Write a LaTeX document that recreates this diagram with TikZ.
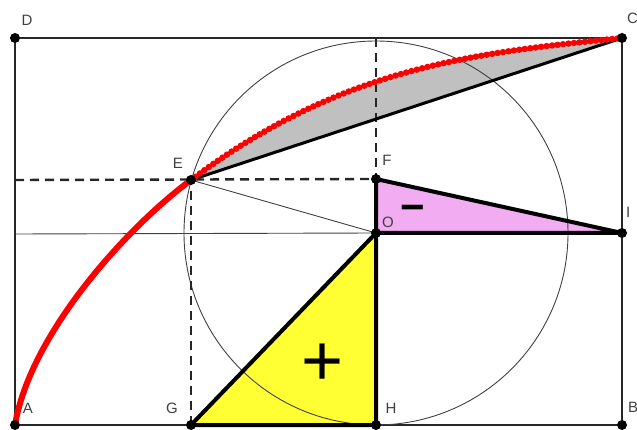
\documentclass[tikz,border=0pt]{standalone}
\usepackage{fontspec}
\setmainfont{Liberation Sans}
\definecolor{pinkfill}{RGB}{242,172,242}
\definecolor{yellowfill}{RGB}{255,255,51}
\definecolor{grayfill}{RGB}{192,192,192}
\definecolor{curvered}{RGB}{255,0,0}
\begin{document}
\begin{tikzpicture}[x=1pt,y=-1pt,
  frame/.style={line width=2.2pt, draw=black!85},
  thickedge/.style={line width=4pt, draw=black, line join=round, line cap=round},
  thinedge/.style={line width=0.9pt, draw=black!75},
  dashedge/.style={line width=2.4pt, draw=black!85, dash pattern=on 9pt off 6pt},
  dotpt/.style={circle, fill=black, inner sep=0pt, minimum size=10pt},
  lbl/.style={font=\fontsize{15}{15}\selectfont, text=black!75, inner sep=0pt}]
\useasboundingbox (0,0) rectangle (637,430);
% points
\coordinate (A) at (15,425);
\coordinate (B) at (622,425);
\coordinate (C) at (622,38);
\coordinate (D) at (15,38);
\coordinate (O) at (376,233);
\coordinate (E) at (191,180);
\coordinate (F) at (376,179);
\coordinate (G) at (191,425);
\coordinate (H) at (376,425);
\coordinate (I) at (622,233);
\coordinate (EL) at (15,180);
\coordinate (OL) at (15,234);
\coordinate (FT) at (376,38);
% fills
\fill[grayfill] (E) .. controls (341,67.5) and (472,53) .. (C) -- cycle;
\fill[yellowfill] (G) -- (O) -- (H) -- cycle;
\fill[pinkfill] (F) -- (O) -- (I) -- cycle;
% frame
\draw[frame] (A) -- (B) -- (C) -- (D) -- cycle;
% circle
\draw[thinedge] (O) circle[radius=192];
% thin lines
\draw[thinedge] (OL) -- (O);
\draw[thinedge] (E) -- (O);
% dashed
\draw[dashedge] (EL) -- (F);
\draw[dashedge] (FT) -- (F);
\draw[dashedge] (G) -- (E);
% thick lines
\draw[line width=3pt, black] (E) -- (C);
\draw[thickedge] (G) -- (O) -- (H) -- cycle;
\draw[thickedge] (F) -- (O) -- (I) -- cycle;
% red curve
\draw[curvered, line width=6pt, line cap=round] (A) .. controls (30,335) and (125,229) .. (E);
\draw[curvered, line width=6.5pt, line cap=round, dash pattern=on 0pt off 5.5pt] (E) .. controls (341,67.5) and (472,53) .. (C);
% dots
\foreach \p in {A,B,C,D,E,F,G,H,I,O} \node[dotpt] (pt\p) at (\p) {};
% labels
\node[lbl] (lD) at (27,20) {D};
\node[lbl, anchor=west] (lC) at (627,18) {C};
\node[lbl] (lE) at (178,163) {E};
\node[lbl] (lF) at (387,160) {F};
\node[lbl] (lO) at (388,222) {O};
\node[lbl, anchor=west] (lI) at (626,212) {I};
\node[lbl] (lA) at (28,408) {A};
\node[lbl] (lG) at (172,408) {G};
\node[lbl] (lH) at (391,408) {H};
\node[lbl, anchor=west] (lB) at (628,407) {B};
\node[font=\fontsize{72}{72}\selectfont, inner sep=0pt, text=black] (plus) at (323,365) {+};
\node[font=\bfseries\fontsize{42}{42}\selectfont, inner sep=0pt, text=black] (minus) at (413,213) {−};
\end{tikzpicture}
\end{document}
